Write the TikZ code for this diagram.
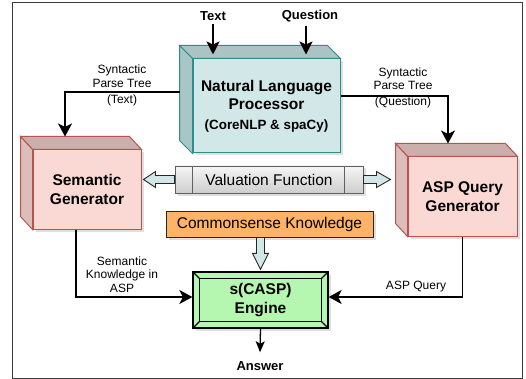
\documentclass[tikz,border=0pt]{standalone}
\usepackage{fontspec}
\setmainfont{Liberation Sans}
\usetikzlibrary{arrows.meta,calc,shadows}

\definecolor{framecol}{HTML}{3A3A3A}
\definecolor{nlpfront}{HTML}{D2E7E7}
\definecolor{nlpside}{HTML}{A9C6C6}
\definecolor{nlptop}{HTML}{ABC3C3}
\definecolor{nlpline}{HTML}{2D8C8C}
\definecolor{genfront}{HTML}{FAD9D5}
\definecolor{genside}{HTML}{DDBDBA}
\definecolor{gentop}{HTML}{CCAFAC}
\definecolor{genline}{HTML}{B85450}
\definecolor{engfill}{HTML}{B5F7B0}
\definecolor{csfill}{HTML}{FFB366}
\definecolor{blockfill}{HTML}{D2E7E7}

\newcommand{\bxfont}{\fontsize{15.5}{18.5}\selectfont\bfseries}
\newcommand{\lbfont}{\fontsize{12}{13.5}\selectfont}
\newcommand{\iofont}{\fontsize{13}{15}\selectfont\bfseries}

\tikzset{
  conn/.style={line width=1.8pt, -{Stealth[length=13pt,width=14pt,inset=3.5pt]}},
  inarr/.style={line width=1.8pt, -{Stealth[length=13pt,width=13pt,inset=3pt]}},
  ansarr/.style={line width=1.3pt, -{Stealth[length=11pt,width=9pt,inset=2.5pt]}},
  cubefront/.style={draw, line width=1pt, inner sep=0pt, align=center, font=\bxfont,
    drop shadow={opacity=0.25, shadow xshift=2.5pt, shadow yshift=-2.5pt}},
  cubeside/.style={line width=1pt},
  edgelbl/.style={align=center, inner sep=0pt, font=\lbfont},
  iotext/.style={inner sep=3pt, font=\iofont},
  plainbox/.style={draw, line width=0.9pt, inner sep=0pt, font=\fontsize{15.5}{18}\selectfont,
    drop shadow={opacity=0.25, shadow xshift=2.5pt, shadow yshift=-2.5pt}},
  blockarr/.style={draw=black!85, fill=blockfill, line width=0.9pt},
}

\begin{document}
\begin{tikzpicture}[x=1pt, y=-1pt]
\useasboundingbox (0,0) rectangle (526,379);
\draw[framecol, line width=1pt] (12,3) rectangle (522,378);

% inputs
\node[iotext] (txt) at (213,16.5) {Text};
\node[iotext] (qst) at (310,16.5) {Question};

% natural language processor
\node[cubefront, fill=nlpfront, draw=nlpline, minimum width=147pt, minimum height=94pt] (nlp) at (266.5,106)
  {Natural Language\\Processor\\[1pt]{\fontsize{13.4}{16}\selectfont(CoreNLP \& spaCy)}};
\filldraw[cubeside, fill=nlptop, draw=nlpline] (nlp.north west) -- ++(-13,-13) -- ($(nlp.north east)+(-13,-13)$) -- (nlp.north east) -- cycle;
\filldraw[cubeside, fill=nlpside, draw=nlpline] (nlp.north west) -- ++(-13,-13) -- ($(nlp.south west)+(-13,-13)$) -- (nlp.south west) -- cycle;

% generators
\node[cubefront, fill=genfront, draw=genline, minimum width=108pt, minimum height=79pt] (sem) at (87,189.5)
  {Semantic\\Generator};
\filldraw[cubeside, fill=gentop, draw=genline] (sem.north west) -- ++(-12,-13) -- ($(sem.north east)+(-12,-13)$) -- (sem.north east) -- cycle;
\filldraw[cubeside, fill=genside, draw=genline] (sem.north west) -- ++(-12,-13) -- ($(sem.south west)+(-12,-13)$) -- (sem.south west) -- cycle;

\node[cubefront, fill=genfront, draw=genline, minimum width=109pt, minimum height=79pt] (asp) at (462.5,196.5)
  {ASP Query\\Generator};
\filldraw[cubeside, fill=gentop, draw=genline] (asp.north west) -- ++(-12,-13) -- ($(asp.north east)+(-12,-13)$) -- (asp.north east) -- cycle;
\filldraw[cubeside, fill=genside, draw=genline] (asp.north west) -- ++(-12,-13) -- ($(asp.south west)+(-12,-13)$) -- (asp.south west) -- cycle;

% valuation function and commonsense knowledge
\node[plainbox, draw=gray!75!black, top color=gray!8, bottom color=gray!38, minimum width=188pt, minimum height=27pt] (val) at (269,179.5)
  {Valuation Function};
\draw[gray!75!black, line width=0.9pt] ($(val.north west)+(18,0)$) -- ($(val.south west)+(18,0)$);
\draw[gray!75!black, line width=0.9pt] ($(val.north east)+(-19,0)$) -- ($(val.south east)+(-19,0)$);
\node[plainbox, draw=black!85, fill=csfill, minimum width=207pt, minimum height=26pt] (cs) at (269.5,224)
  {Commonsense Knowledge};

% s(CASP) engine
\node[cubefront, fill=engfill, draw=black, line width=1.2pt, minimum width=135pt, minimum height=56pt] (eng) at (260.5,300)
  {s(CASP)\\Engine};
\draw[line width=1.1pt] ($(eng.north west)+(7,7)$) rectangle ($(eng.south east)+(-7,-7)$);
\draw[line width=1.1pt] (eng.north west) -- ++(7,7) (eng.north east) -- ++(-7,7)
  (eng.south west) -- ++(7,-7) (eng.south east) -- ++(-7,-7);

\node[iotext, inner sep=0pt] (ans) at (260,366) {Answer};

% block arrows
\coordinate (vl) at (sem.east |- val.west);
\filldraw[blockarr] ($(val.west)+(0,-4)$) -- ($(vl)+(14,-4)$) -- ($(vl)+(14,-8)$) -- ($(vl)+(2,0)$)
  -- ($(vl)+(14,8)$) -- ($(vl)+(14,4)$) -- ($(val.west)+(0,4)$) -- cycle;
\coordinate (vr) at (asp.west |- val.east);
\filldraw[blockarr] ($(val.east)+(0,-4)$) -- ($(vr)+(-31,-4)$) -- ($(vr)+(-31,-8)$) -- ($(vr)+(-17,0)$)
  -- ($(vr)+(-31,8)$) -- ($(vr)+(-31,4)$) -- ($(val.east)+(0,4)$) -- cycle;
\coordinate (cd) at (eng.north |- cs.south);
\filldraw[blockarr] ($(cd)+(-4,0)$) -- ($(eng.north)+(-4,-18)$) -- ($(eng.north)+(-8,-18)$) -- ($(eng.north)+(0,-2)$)
  -- ($(eng.north)+(8,-18)$) -- ($(eng.north)+(4,-18)$) -- ($(cd)+(4,0)$) -- cycle;

% connectors
\draw[inarr] (txt.south) -- ($(txt.south |- nlp.north)+(0,-4)$);
\draw[inarr] ($(qst.south)+(-4,0)$) -- ($(qst.south |- nlp.north)+(-4,-4)$);
\draw[conn] ($(nlp.west)+(-13,-14)$) -| ($(sem.north)+(-22,-13)$);
\draw[conn] ($(nlp.east)+(0,-10)$) -| ($(asp.north)+(-14.5,-13)$);
\draw[conn] ($(sem.south)+(-11,0)$) |- ($(eng.west)+(0,-3)$);
\draw[conn] (asp.south) |- ($(eng.east)+(0,-3)$);
\draw[ansarr] (eng.south) -- ($(ans.north)+(0,-9)$);

% connector labels
\node[edgelbl] (lbtext) at (122,85.5) {Syntactic\\Parse Tree\\[2.5pt](Text)};
\node[edgelbl] (lbqst) at (403,88) {Syntactic\\Parse Tree\\[2.5pt](Question)};
\node[edgelbl] (lbsem) at (122,274.5) {Semantic\\Knowledge in\\ASP};
\node[edgelbl] (lbasp) at (416,287) {ASP Query};
\end{tikzpicture}
\end{document}
